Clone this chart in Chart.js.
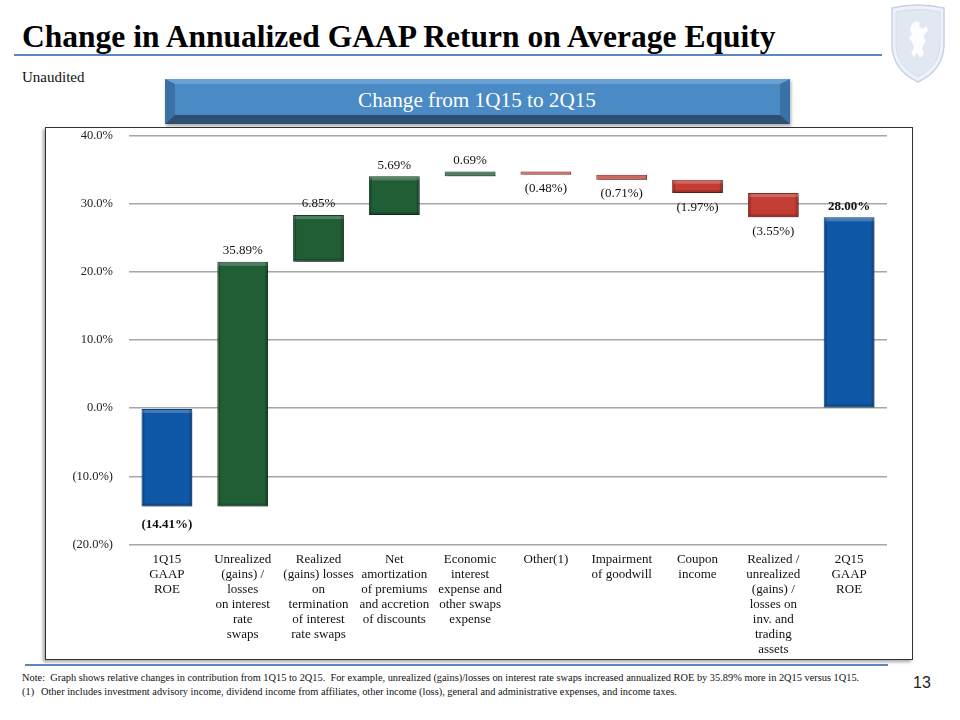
<!DOCTYPE html>
<html>
<head>
<meta charset="utf-8">
<script src="https://cdn.jsdelivr.net/npm/chart.js@4/dist/chart.umd.min.js"></script>
<style>
  html, body { margin:0; padding:0; background:#fff; }
  body { width:960px; height:720px; position:relative; overflow:hidden; font-family:"Liberation Serif", serif; }
  .abs { position:absolute; white-space:nowrap; line-height:1; }
  #title { left:22px; font-weight:bold; color:#000; font-size:29px; }
  #topline { position:absolute; left:14px; top:54px; width:868px; height:2px; background:#5b87bd; }
  #unaudited { left:22px; font-size:15px; color:#111; }
  #banner { position:absolute; left:165px; top:79px; width:625px; height:45px; background:#4a8ac5;
            box-shadow: 1px 2px 3px rgba(0,0,0,0.35); }
  #bannerText { color:#fff; font-size:21px; }
  #frame { position:absolute; left:45px; top:127px; width:866px; height:531px; border:1px solid #333;
           box-shadow:-2px 2px 3px rgba(0,0,0,0.35); background:#fff; }
  #chartWrap { position:absolute; left:46px; top:128px; width:866px; }
  #botline { position:absolute; left:25px; top:664px; width:863px; height:2px; background:#5b87bd; }
  .note { font-size:10px; color:#111; }
  #page { font-family:"Liberation Sans", sans-serif; font-size:16px; color:#222; left:913px; }
</style>
</head>
<body>
<div id="title" class="abs">Change in Annualized GAAP Return on Average Equity</div>
<div id="topline"></div>
<svg style="position:absolute;left:889px;top:4px" width="58" height="80" viewBox="0 0 58 80">
  <path d="M3,4 Q29,-2 55,4 L55,42 Q54,66 29,78 Q4,66 3,42 Z" fill="#eef2f8" stroke="#c3d3e8" stroke-width="1.5"/>
  <path d="M7,8 Q29,3 51,8 L51,42 Q50,62 29,73 Q8,62 7,42 Z" fill="#e2e8f1" stroke="#d3deec" stroke-width="1"/>
  <path d="M23,20 L27,17 L31,19 L30,23 L34,25 L37,22 L39,26 L35,31 L36,38 L33,44 L35,50 L31,54 L28,49 L25,53 L22,49 L25,44 L23,38 L20,34 L23,30 L21,26 Z" fill="#ffffff" opacity="0.9"/>
</svg>
<div id="unaudited" class="abs">Unaudited</div>
<div id="banner">
  <svg style="position:absolute;left:0;top:0" width="625" height="45">
    <polygon points="0,0 625,0 615,5 10,5" fill="#6aa1d4"/>
    <polygon points="0,0 10,5 10,36 0,45" fill="#3a72a6"/>
    <polygon points="625,0 625,45 615,36 615,5" fill="#3a72a6"/>
    <polygon points="0,45 10,36 615,36 625,45" fill="#2c4f72"/>
  </svg>
  <div id="bannerText" class="abs">Change from 1Q15 to 2Q15</div>
</div>
<div id="frame"></div>
<div id="chartWrap"><canvas id="c" width="866" height="530"></canvas></div>
<div id="botline"></div>
<div id="note1" class="abs note">Note:&nbsp; Graph shows relative changes in contribution from 1Q15 to 2Q15.&nbsp; For example, unrealized (gains)/losses on interest rate swaps increased annualized ROE by 35.89% more in 2Q15 versus 1Q15.</div>
<div id="note2a" class="abs note">(1)</div>
<div id="note2" class="abs note">Other includes investment advisory income, dividend income from affiliates, other income (loss), general and administrative expenses, and income taxes.</div>
<div id="page" class="abs">13</div>

<script>
// ---------------- DATA ----------------
const categories = [
  ["1Q15","GAAP","ROE"],
  ["Unrealized","(gains) /","losses","on interest","rate","swaps"],
  ["Realized","(gains) losses","on","termination","of interest","rate swaps"],
  ["Net","amortization","of premiums","and accretion","of discounts"],
  ["Economic","interest","expense and","other swaps","expense"],
  ["Other(1)"],
  ["Impairment","of goodwill"],
  ["Coupon","income"],
  ["Realized /","unrealized","(gains) /","losses on","inv. and","trading","assets"],
  ["2Q15","GAAP","ROE"]
];
const changeValues = [-14.41, 35.89, 6.85, 5.69, 0.69, -0.48, -0.71, -1.97, -3.55, 28.00];
const barKinds = ["total","delta","delta","delta","delta","delta","delta","delta","delta","total"];
const yTickMin = -20;
const yTickMax = 40;
const yTickStep = 10;

// ---------------- helpers ----------------
function fitWidth(id, target) {
  const el = document.getElementById(id);
  const fs = parseFloat(getComputedStyle(el).fontSize);
  const w = el.getBoundingClientRect().width;
  el.style.fontSize = (fs * target / w) + "px";
  return fs * target / w;
}
function placeCenterY(id, cy) {
  const el = document.getElementById(id);
  const h = el.getBoundingClientRect().height;
  el.style.top = (cy - h / 2) + "px";
}
fitWidth("title", 754); placeCenterY("title", 37);
placeCenterY("unaudited", 77);
fitWidth("bannerText", 238);
(function(){
  const el = document.getElementById("bannerText");
  const r = el.getBoundingClientRect();
  el.style.left = (312 - r.width / 2) + "px";
  el.style.top = (22 - r.height / 2) + "px";
})();
fitWidth("note1", 838); document.getElementById("note1").style.left = "22px"; placeCenterY("note1", 678);
const nfs = parseFloat(document.getElementById("note1").style.fontSize);
["note2a","note2"].forEach(id => document.getElementById(id).style.fontSize = nfs + "px");
document.getElementById("note2a").style.left = "22px"; placeCenterY("note2a", 692);
document.getElementById("note2").style.left = "41px"; placeCenterY("note2", 692);
placeCenterY("page", 683);

function fmtPct(v, digits) {
  const s = Math.abs(v).toFixed(digits) + "%";
  return v < 0 ? "(" + s + ")" : s;
}

// Build floating bar ranges from the change values
const ranges = [];
let running = 0;
changeValues.forEach((v, i) => {
  if (barKinds[i] === "total") { ranges.push([0, v]); running = v; }
  else { ranges.push([running, running + v]); running += v; }
});

const BLUE = "#0f58a8", GREEN = "#215e36", RED = "#c33d34";
const fillColors = changeValues.map((v, i) => barKinds[i] === "total" ? BLUE : (v >= 0 ? GREEN : RED));
const borderColors = changeValues.map((v, i) => barKinds[i] === "total" ? "#0a3f7a" : (v >= 0 ? "#163f24" : "#8e2a24"));

const labelPlugin = {
  id: "wfx",
  beforeDatasetsDraw(chart) {
    const ctx = chart.ctx;
    ctx.save();
    ctx.shadowColor = "rgba(0,0,0,0.45)";
    ctx.shadowBlur = 3;
    ctx.shadowOffsetX = 2;
    ctx.shadowOffsetY = 2;
  },
  afterDatasetsDraw(chart) {
    const ctx = chart.ctx;
    ctx.restore();
    const meta = chart.getDatasetMeta(0);
    meta.data.forEach((bar, i) => {
      const top = Math.min(bar.y, bar.base);
      const bottom = Math.max(bar.y, bar.base);
      const left = bar.x - bar.width / 2;
      const h = bottom - top;
      ctx.save();
      ctx.fillStyle = "rgba(255,255,255,0.22)";
      ctx.fillRect(left + 1, top + 1, bar.width - 2, Math.min(3, h - 1));
      ctx.fillStyle = "rgba(0,0,0,0.18)";
      if (h > 6) {
        ctx.fillRect(left + 1, top + 1, 2, h - 2);
        ctx.fillRect(left + bar.width - 3, top + 1, 2, h - 2);
        ctx.fillRect(left + 1, bottom - 3, bar.width - 2, 2);
      }
      ctx.restore();
      const v = changeValues[i];
      const isTotal = barKinds[i] === "total";
      ctx.save();
      ctx.font = (isTotal ? "bold " : "") + "13px 'Liberation Serif', serif";
      ctx.fillStyle = "#111";
      ctx.textAlign = "center";
      ctx.textBaseline = "middle";
      const txt = fmtPct(v, 2);
      if (v >= 0) ctx.fillText(txt, bar.x, top - 11);
      else ctx.fillText(txt, bar.x, bottom + (isTotal ? 18 : 14));
      ctx.restore();
    });
  }
};

const chart = new Chart(document.getElementById("c"), {
  type: "bar",
  data: {
    labels: categories,
    datasets: [{
      data: ranges,
      backgroundColor: fillColors,
      borderColor: borderColors,
      borderWidth: 1,
      borderSkipped: false,
      barPercentage: 0.67,
      categoryPercentage: 1.0
    }]
  },
  options: {
    responsive: false,
    maintainAspectRatio: false,
    animation: false,
    devicePixelRatio: 1,
    layout: { padding: { left: 0, right: 25, top: 0, bottom: 0 } },
    plugins: { legend: { display: false }, tooltip: { enabled: false } },
    scales: {
      x: {
        grid: { display: false, drawTicks: false },
        border: { display: false },
        afterFit(scale) { scale.height = 114; },
        ticks: {
          autoSkip: false, maxRotation: 0, minRotation: 0, padding: 8,
          color: "#111",
          font: { family: "'Liberation Serif', serif", size: 13, lineHeight: "15px" }
        }
      },
      y: {
        min: yTickMin, max: yTickMax,
        afterFit(scale) { scale.width = 83; },
        grid: { color: "#a6a6a6", lineWidth: 1.5, drawTicks: false },
        border: { display: false },
        ticks: {
          stepSize: yTickStep, padding: 16, color: "#222",
          font: { family: "'Liberation Serif', serif", size: 12.5 },
          callback: v => fmtPct(v, 1)
        }
      }
    }
  },
  plugins: [labelPlugin]
});

// Align plot area: top gridline at page y=135, bottom at page y=544
(function(){
  const wrap = document.getElementById("chartWrap");
  const desiredTop = 135 - 128;
  const extra = chart.chartArea.top - desiredTop;
  if (extra !== 0) {
    wrap.style.top = (128 - extra) + "px";
    chart.resize(866, 530 + extra);
  }
})();
</script>
</body>
</html>
